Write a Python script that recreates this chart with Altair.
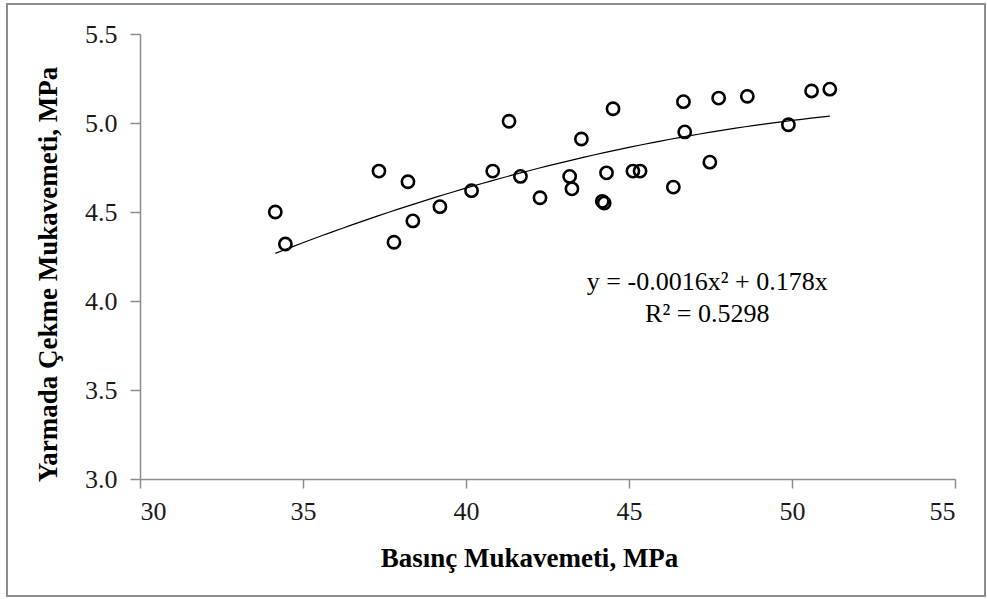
import altair as alt
import pandas as pd
import numpy as np

# Data
basinc = [34.15, 34.46, 37.33, 37.79, 38.22, 38.37, 39.20, 40.17, 40.82, 41.32,
          41.67, 42.27, 43.18, 43.25, 43.54, 44.18, 44.24, 44.31, 44.51, 45.12,
          45.34, 46.36, 46.67, 46.71, 47.48, 47.75, 48.63, 49.89, 50.60, 51.16]
yarmada = [4.50, 4.32, 4.73, 4.33, 4.67, 4.45, 4.53, 4.62, 4.73, 5.01,
           4.70, 4.58, 4.70, 4.63, 4.91, 4.56, 4.55, 4.72, 5.08, 4.73,
           4.73, 4.64, 5.12, 4.95, 4.78, 5.14, 5.15, 4.99, 5.18, 5.19]

eq_lines = ["y = -0.0016x\u00b2 + 0.178x", "R\u00b2 = 0.5298"]
eq_x = [47.4, 47.4]
eq_y = [4.062, 3.882]

x_ticks = [30, 35, 40, 45, 50, 55]
y_ticks = [3.0, 3.5, 4.0, 4.5, 5.0, 5.5]

FONT = "Liberation Serif"

df = pd.DataFrame({"x": basinc, "y": yarmada})

# Trend line: least-squares quadratic through the origin, fitted to the points
X = np.array(basinc)
Y = np.array(yarmada)
A = np.column_stack([X ** 2, X])
coef, *_ = np.linalg.lstsq(A, Y, rcond=None)
xs = np.linspace(X.min(), X.max(), 60)
trend = pd.DataFrame({"x": xs, "y": coef[0] * xs ** 2 + coef[1] * xs})

eq = pd.DataFrame({"x": eq_x, "y": eq_y, "t": eq_lines})

xscale = alt.Scale(domain=[30, 55], nice=False, zero=False)
yscale = alt.Scale(domain=[3.0, 5.5], nice=False, zero=False)

xaxis = alt.Axis(
    values=x_ticks, format="d", grid=False,
    domainColor="#8c8c8c", domainWidth=1.5, tickColor="#8c8c8c", tickWidth=1.5, tickSize=9,
    labelFont=FONT, labelFontSize=26, labelColor="#1a1a1a", labelPadding=10,
    title="Basınç Mukavemeti, MPa", titleFont=FONT, titleFontSize=27, titleFontWeight="bold",
    titleColor="#000000", titleX=389, titleY=79, titleBaseline="middle", titleAlign="center",
)
yaxis = alt.Axis(
    values=y_ticks, format=".1f", grid=False,
    domainColor="#8c8c8c", domainWidth=1.5, tickColor="#8c8c8c", tickWidth=1.5, tickSize=10,
    labelFont=FONT, labelFontSize=26, labelColor="#1a1a1a", labelPadding=13,
    title="Yarmada  Çekme Mukavemeti, MPa", titleFont=FONT, titleFontSize=27,
    titleFontWeight="bold", titleColor="#000000", titleAngle=-90,
    titleX=-92, titleY=240, titleBaseline="middle", titleAlign="center",
)

border = alt.Chart(pd.DataFrame({"k": [0]})).mark_rect(
    fill=None, stroke="#8c8c8c", strokeWidth=2, clip=False
).encode(
    x=alt.value(-133), x2=alt.value(845), y=alt.value(-30), y2=alt.value(562)
)

points = alt.Chart(df).mark_point(
    shape="circle", filled=False, color="#000000", size=150, strokeWidth=2.6, opacity=1
).encode(
    x=alt.X("x:Q", scale=xscale, axis=xaxis),
    y=alt.Y("y:Q", scale=yscale, axis=yaxis),
)

line = alt.Chart(trend).mark_line(color="#000000", strokeWidth=1.2).encode(
    x=alt.X("x:Q", scale=xscale),
    y=alt.Y("y:Q", scale=yscale),
)

text = alt.Chart(eq).mark_text(
    font=FONT, fontSize=26, color="#000000", align="center", baseline="alphabetic"
).encode(
    x=alt.X("x:Q", scale=xscale),
    y=alt.Y("y:Q", scale=yscale),
    text="t:N",
)

chart = alt.layer(border, line, points, text).properties(
    width=815, height=445,
    autosize=alt.AutoSizeParams(type="none"),
    padding={"left": 140, "top": 34, "right": 32, "bottom": 120},
    background="#ffffff",
).configure_view(stroke=None)

chart.save("out.html", embed_options={"renderer": "svg", "actions": False})
